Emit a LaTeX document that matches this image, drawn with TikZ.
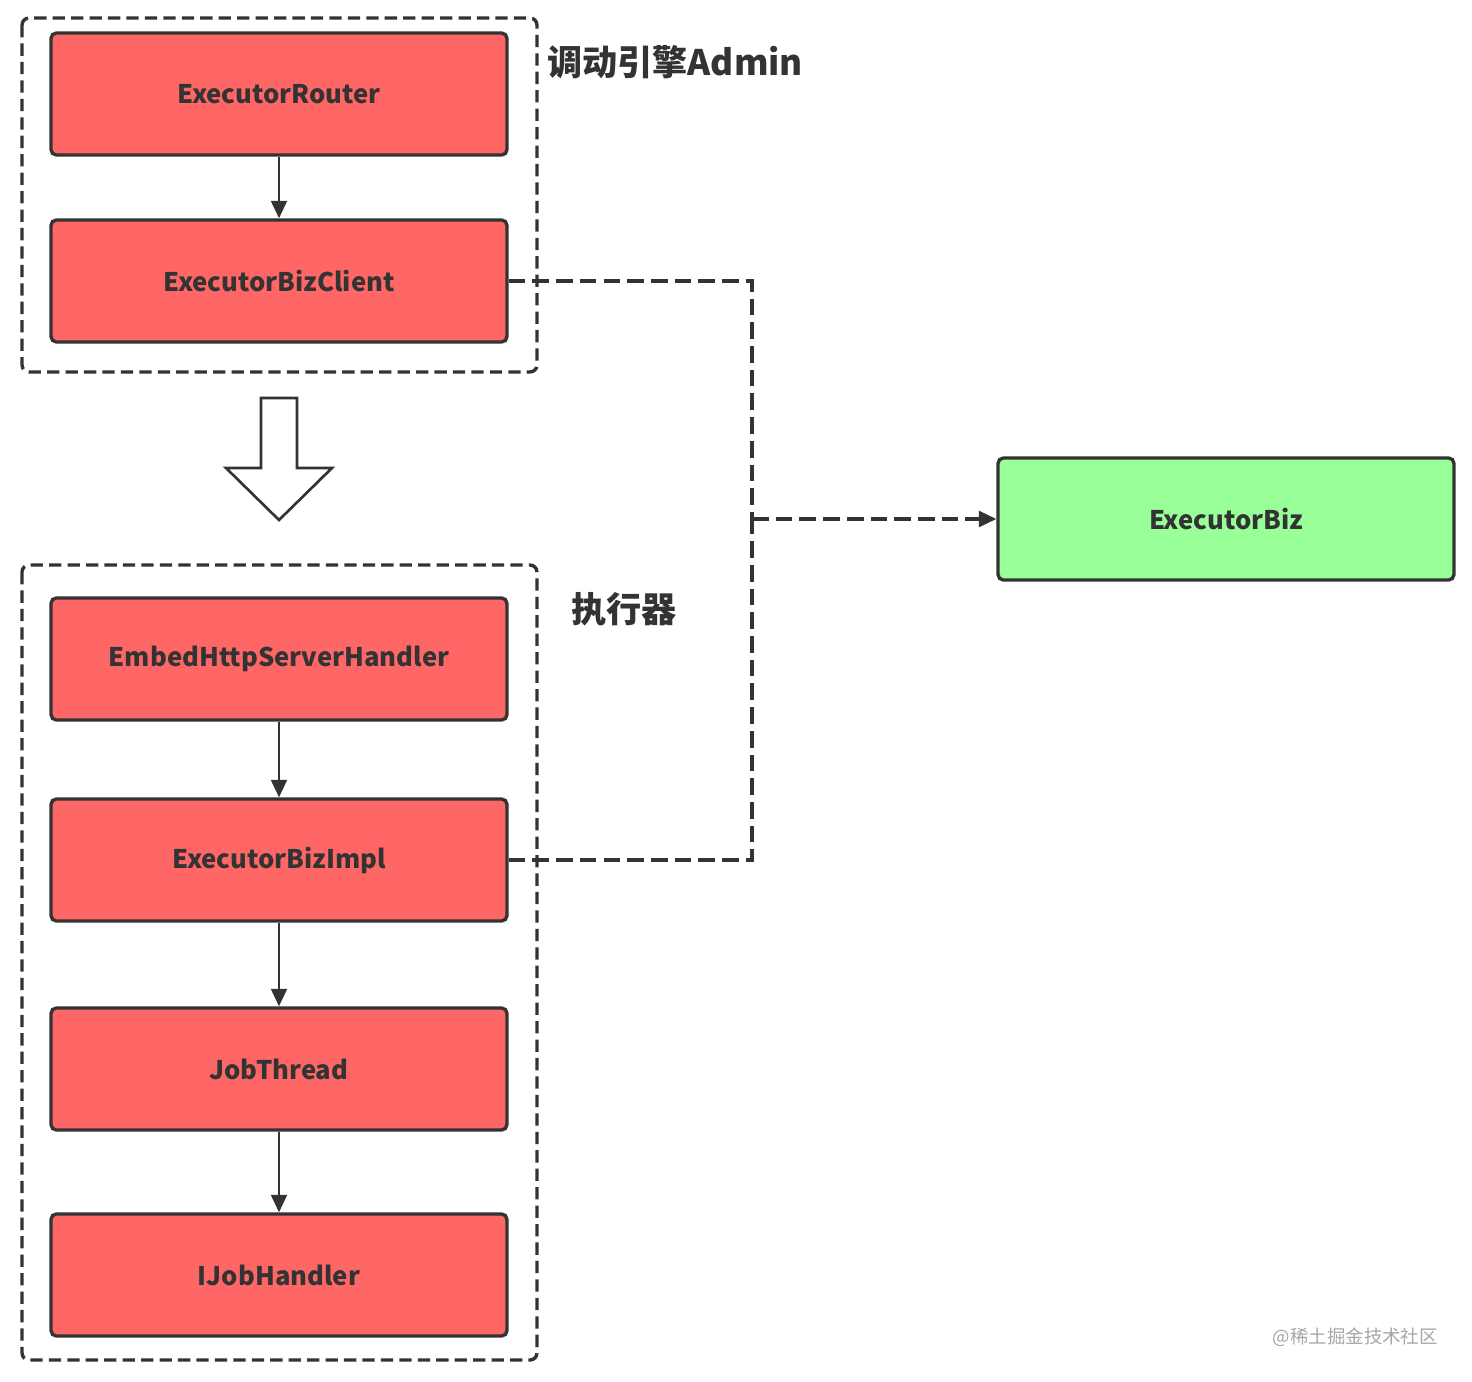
\documentclass[tikz,border=0pt]{standalone}
\usepackage{fontspec}
\setmainfont{Noto Sans CJK SC}
\usetikzlibrary{arrows.meta}
\definecolor{boxred}{HTML}{FF6666}
\definecolor{boxgreen}{HTML}{99FF99}
\definecolor{ink}{HTML}{333333}
\begin{document}
\begin{tikzpicture}[x=0.02cm, y=-0.02cm,
    block/.style={draw=ink, line width=1.9pt, rounded corners=3pt, fill=boxred,
      minimum width=9.12cm, minimum height=2.44cm, text=ink,
      font=\fontsize{14.6}{16}\selectfont\bfseries},
    group/.style={draw=ink, line width=1.9pt, rounded corners=4pt,
      dash pattern=on 7pt off 3.5pt},
    link/.style={draw=ink, line width=1.9pt, dash pattern=on 9.5pt off 4pt},
    flow/.style={draw=ink, line width=1.6pt, -{Triangle[length=10pt,width=9pt]}},
    title/.style={anchor=west, text=ink, font=\fontsize{20}{24}\selectfont\bfseries}]
    \useasboundingbox (0,0) rectangle (1472,1382);

    % containers
    \draw[group] (22,18) rectangle (537,372);
    \draw[group] (22,565) rectangle (537,1360);
    \node[title] (admin) at (541,62) {调动引擎Admin};
    \node[title] (exec) at (565,609) {执行器};

    \node[block] (router) at (279,94) {ExecutorRouter};
    \node[block] (client) at (279,281) {ExecutorBizClient};
    \node[block] (handler) at (279,659) {EmbedHttpServerHandler};
    \node[block] (impl) at (279,860) {ExecutorBizImpl};
    \node[block] (thread) at (279,1069) {JobThread};
    \node[block] (jobhandler) at (279,1275) {IJobHandler};
    \node[block, fill=boxgreen] (biz) at (1226,519) {ExecutorBiz};

    \draw[flow] (router) -- (client);
    \draw[flow] (handler) -- (impl);
    \draw[flow] (impl) -- (thread);
    \draw[flow] (thread) -- (jobhandler);

    % big hollow arrow
    \draw[ink, line width=1.5pt, line join=miter, fill=white]
      (261,398) -- (297,398) -- (297,468) -- (332,468) -- (279,520)
      -- (226,468) -- (261,468) -- cycle;

    \coordinate (bus) at (752,519);
    \draw[link] (client.east) -| (bus);
    \draw[link] (impl.east) -| (bus);
    \draw[link, -{Triangle[length=10pt,width=9pt]}] (bus) -- (biz.west);

    \node[text=black!35, font=\fontsize{10.5}{12}\selectfont, anchor=east] (mark) at (1444,1337) {@稀土掘金技术社区};
\end{tikzpicture}
\end{document}
